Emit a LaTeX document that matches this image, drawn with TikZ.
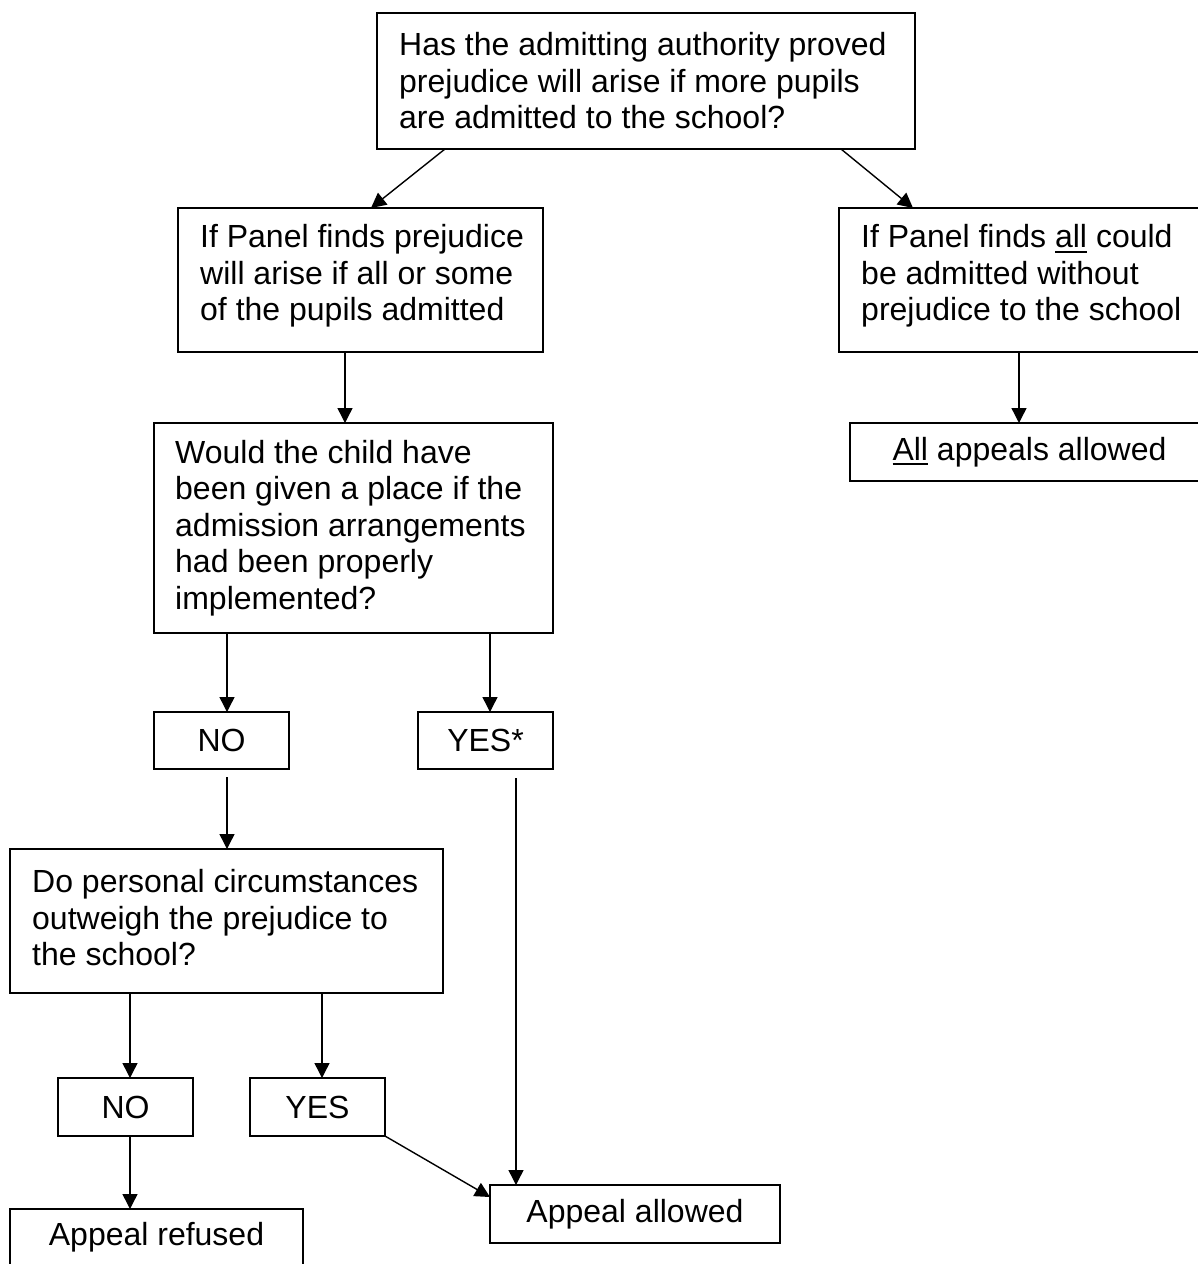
\documentclass[tikz,border=0pt]{standalone}
\usepackage{fontspec}
\setmainfont{Liberation Sans}
\usetikzlibrary{arrows.meta,calc}
\newcommand{\myul}[1]{\sbox0{#1}\rlap{\rule[-5pt]{\wd0}{2pt}}\usebox0}
\begin{document}
\begin{tikzpicture}[x=1pt,y=-1pt,
  box/.style={draw,line width=1.8pt,inner sep=0pt,outer sep=0pt,rectangle},
  txt/.style={inner sep=0pt,align=left,anchor=west,font=\fontsize{32pt}{36.5pt}\selectfont},
  ctxt/.style={box,font=\fontsize{32pt}{36.5pt}\selectfont},
  arr/.style={line width=1.4pt,-{Triangle[length=15pt,width=15pt]}}]
\useasboundingbox (0,0) rectangle (1198,1264);
\fill[white] (0,0) rectangle (1198,1264);
% boxes
\node[box,minimum width=538pt,minimum height=136pt] (top) at (646,81) {};
\node[txt] (topt) at ($(top.west)+(22,0)$) {Has the admitting authority proved\\prejudice will arise if more pupils\\are admitted to the school?};
\node[box,minimum width=365pt,minimum height=144pt] (left) at (360.5,280) {};
\node[txt] (leftt) at ($(left.west)+(22,-4)$) {If Panel finds prejudice\\will arise if all or some\\of the pupils admitted};
\node[box,minimum width=371pt,minimum height=144pt] (right) at (1024.5,280) {};
\node[txt] (rightt) at ($(right.west)+(22,-4)$) {If Panel finds \myul{all} could\\be admitted without\\prejudice to the school};
\node[ctxt,minimum width=359pt,minimum height=58pt] (allap) at (1029.5,452) {\myul{All} appeals allowed};
\node[box,minimum width=399pt,minimum height=210pt] (would) at (353.5,528) {};
\node[txt] (wouldt) at ($(would.west)+(21,0)$) {Would the child have\\been given a place if the\\admission arrangements\\had been properly\\implemented?};
\node[ctxt,minimum width=135pt,minimum height=57pt] (noa) at (221.5,740.5) {NO};
\node[ctxt,minimum width=135pt,minimum height=57pt] (yesa) at (485.5,740.5) {YES*};
\node[box,minimum width=433pt,minimum height=144pt] (do) at (226.5,921) {};
\node[txt] (dot) at ($(do.west)+(22,-3)$) {Do personal circumstances\\outweigh the prejudice to\\the school?};
\node[ctxt,minimum width=135pt,minimum height=58pt] (nob) at (125.5,1107) {NO};
\node[ctxt,minimum width=135pt,minimum height=58pt] (yesb) at (317.5,1107) {YES};
\node[ctxt,minimum width=293pt,minimum height=57pt] (refused) at (156.5,1237.5) {Appeal refused};
\node[ctxt,minimum width=290pt,minimum height=58pt] (allowed) at (635,1214) {Appeal allowed};
% connectors
\draw[arr] ($(top.south west)+(68,0)$) -- ($(left.north west)+(193,0)$);
\draw[arr] ($(top.south west)+(464,0)$) -- ($(right.north west)+(74,0)$);
\draw[arr] ($(left.south west)+(167,0)$) -- ($(would.north west)+(191,0)$);
\draw[arr] ($(right.south west)+(180,0)$) -- ($(allap.north west)+(169,0)$);
\draw[arr] ($(would.south west)+(73,0)$) -- ($(noa.north west)+(73,0)$);
\draw[arr] ($(would.south west)+(336,0)$) -- ($(yesa.north west)+(72,0)$);
\draw[arr] ($(noa.south west)+(73,8)$) -- ($(do.north west)+(217,0)$);
\draw[arr] ($(yesa.south west)+(98,9)$) -- ($(allowed.north west)+(26,0)$);
\draw[arr] ($(do.south west)+(120,0)$) -- ($(nob.north west)+(72,0)$);
\draw[arr] ($(do.south west)+(312,0)$) -- ($(yesb.north west)+(72,0)$);
\draw[arr] ($(nob.south west)+(72,0)$) -- ($(refused.north west)+(120,0)$);
\draw[arr] (yesb.south east) -- ($(allowed.north west)+(0,12)$);
\end{tikzpicture}
\end{document}
